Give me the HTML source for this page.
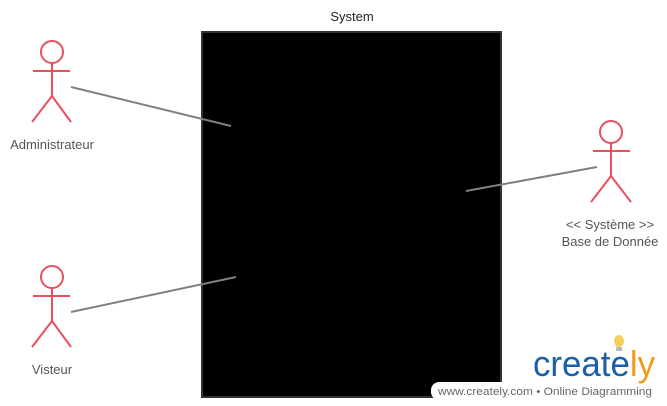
<!DOCTYPE html>
<html><head><meta charset="utf-8"><style>
html,body{margin:0;padding:0;background:#fff;}
body{width:667px;height:406px;overflow:hidden;font-family:"Liberation Sans",sans-serif;}
</style></head><body>
<svg width="667" height="406" xmlns="http://www.w3.org/2000/svg" style="position:absolute;left:0;top:0">
<rect x="202" y="32" width="299" height="365" fill="#000" stroke="#333" stroke-width="2"/>
<text x="352" y="21" font-size="13" text-anchor="middle" fill="#222" font-family="Liberation Sans, sans-serif">System</text>
<g stroke="#e8505b" stroke-width="2" fill="none">
<circle cx="52" cy="52" r="11"/><line x1="52" y1="63" x2="52" y2="96"/><line x1="33" y1="71" x2="70" y2="71"/><line x1="52" y1="96" x2="32" y2="122"/><line x1="52" y1="96" x2="71" y2="122"/>
<circle cx="52" cy="277" r="11"/><line x1="52" y1="288" x2="52" y2="321"/><line x1="33" y1="296" x2="70" y2="296"/><line x1="52" y1="321" x2="32" y2="347"/><line x1="52" y1="321" x2="71" y2="347"/>
<circle cx="611" cy="132" r="11"/><line x1="611" y1="143" x2="611" y2="176"/><line x1="593" y1="151" x2="630" y2="151"/><line x1="611" y1="176" x2="591" y2="202"/><line x1="611" y1="176" x2="631" y2="202"/>
</g>
<g stroke="#808080" stroke-width="2">
<line x1="71" y1="87" x2="231" y2="126"/>
<line x1="71" y1="312" x2="236" y2="277"/>
<line x1="466" y1="191" x2="597" y2="167"/>
</g>
<g font-size="13" fill="#555" text-anchor="middle" font-family="Liberation Sans, sans-serif">
<text x="52" y="149">Administrateur</text>
<text x="52" y="374">Visteur</text>
<text x="610" y="229">&lt;&lt; Système &gt;&gt;</text>
<text x="610" y="246">Base de Donnée</text>
</g>
<rect x="431" y="382" width="240" height="18" rx="8" fill="#fff"/>
<text x="438" y="395" font-size="11" fill="#666" font-family="Liberation Sans, sans-serif" textLength="214" lengthAdjust="spacingAndGlyphs">www.creately.com • Online Diagramming</text>
<text x="533" y="376" font-size="36" fill="#1a5fa8" font-family="Liberation Sans, sans-serif" textLength="122" lengthAdjust="spacingAndGlyphs">create<tspan fill="#f39a1e">ly</tspan></text>
<ellipse cx="619" cy="341" rx="5" ry="6" fill="#f6cf5a"/>
<rect x="616" y="347" width="6" height="4" fill="#bbb"/>
</svg>
</body></html>
